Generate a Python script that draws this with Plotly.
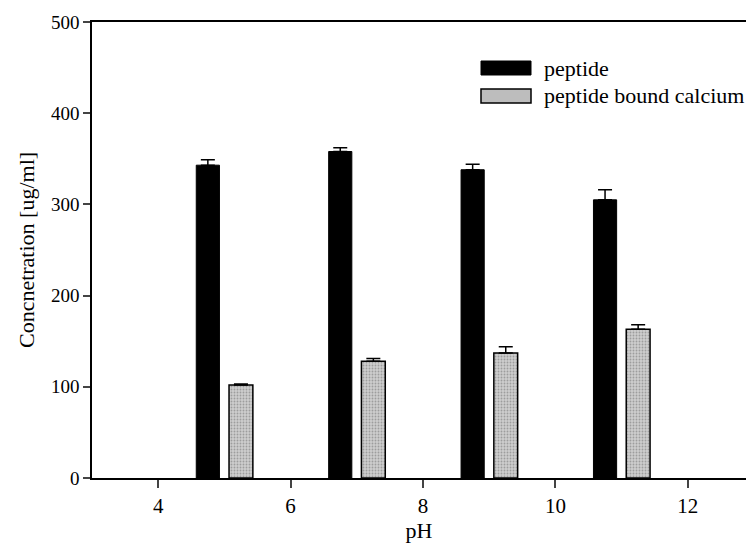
import plotly.graph_objects as go

ph = [5, 7, 9, 11]
peptide = [343, 358, 338, 305]
peptide_err = [6, 4, 6, 11]
calcium = [102, 128, 137, 163]
calcium_err = [1, 3, 7, 5]
y_ticks = [0, 100, 200, 300, 400, 500]
x_ticks = [4, 6, 8, 10, 12]
series_names = ["peptide", "peptide bound calcium"]

FONT = "Liberation Serif"

fig = go.Figure()
fig.add_trace(go.Bar(
    x=ph, y=peptide, name=series_names[0],
    width=0.35, offset=-0.425,
    marker=dict(color="black", line=dict(color="black", width=1)),
    error_y=dict(type="data", array=peptide_err, arrayminus=[0] * len(ph), symmetric=False,
                 color="black", thickness=1.5, width=7),
    showlegend=False,
))
fig.add_trace(go.Bar(
    x=ph, y=calcium, name=series_names[1],
    width=0.36, offset=0.07,
    marker=dict(color="#c4c4c4", line=dict(color="black", width=1.5),
                pattern=dict(shape=".", bgcolor="#cdcdcd", fgcolor="#6e6e6e", size=3, solidity=0.3)),
    error_y=dict(type="data", array=calcium_err, arrayminus=[0] * len(ph), symmetric=False,
                 color="black", thickness=1.5, width=7),
    showlegend=False,
))

W, H = 746, 544
L, R, T, B = 92, 0, 22, 66
pw, ph_ = W - L - R, H - T - B

def px(x):
    return (x - L) / pw

def py(y):
    return (H - B - y) / ph_

# manual legend
legend_rows = [(series_names[0], 68), (series_names[1], 96)]
for i, (name, yc) in enumerate(legend_rows):
    if i == 0:
        fig.add_shape(type="rect", xref="paper", yref="paper",
                      x0=px(481), x1=px(531), y0=py(yc + 7), y1=py(yc - 7),
                      fillcolor="black", line=dict(color="black", width=1))
    else:
        fig.add_shape(type="rect", xref="paper", yref="paper",
                      x0=px(481), x1=px(531), y0=py(yc + 7), y1=py(yc - 7),
                      fillcolor="#bdbdbd", line=dict(color="black", width=1.5))
    fig.add_annotation(xref="paper", yref="paper", x=px(542), y=py(yc),
                       text=name, showarrow=False, xanchor="left", yanchor="middle",
                       font=dict(family=FONT, size=22, color="black"))

fig.update_layout(
    width=W, height=H,
    margin=dict(l=L, r=R, t=T, b=B),
    paper_bgcolor="white", plot_bgcolor="white",
    barmode="overlay",
    font=dict(family=FONT, size=21, color="black"),
    xaxis=dict(range=[3, 3 + pw / 66.2], tickvals=x_ticks, ticks="outside", ticklen=8,
               tickwidth=1.5, showline=True, linecolor="black", linewidth=1.5, mirror=True,
               showgrid=False, zeroline=False,
               title=dict(text="pH", font=dict(family=FONT, size=22), standoff=5),
               tickfont=dict(family=FONT, size=21)),
    yaxis=dict(range=[0, 500], tickvals=y_ticks, ticks="outside", ticklen=7,
               tickwidth=1.5, showline=True, linecolor="black", linewidth=1.5, mirror=False,
               showgrid=False, zeroline=False,
               title=dict(text="Concnetration [ug/ml]", font=dict(family=FONT, size=22), standoff=10),
               tickfont=dict(family=FONT, size=19)),
)

fig.write_html("out.html")
